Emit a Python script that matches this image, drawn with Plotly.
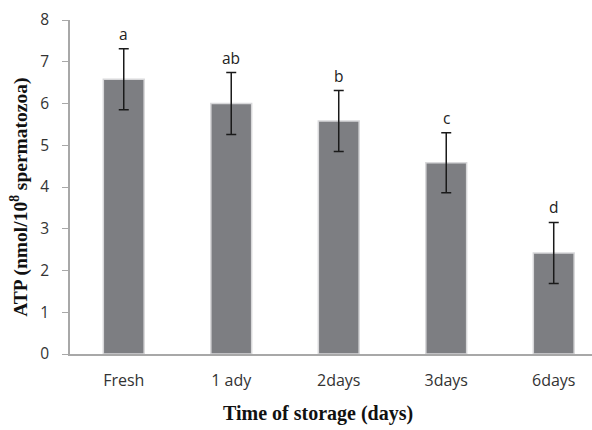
import plotly.graph_objects as go

# ATP content of stored semen samples
categories = ["Fresh", "1 ady", "2days", "3days", "6days"]
atp_mean = [6.58, 6.00, 5.58, 4.58, 2.42]
atp_err = [0.73, 0.74, 0.73, 0.72, 0.73]
group_letters = ["a", "ab", "b", "c", "d"]
y_ticks = [0, 1, 2, 3, 4, 5, 6, 7, 8]

fig = go.Figure()
fig.add_trace(go.Bar(
    x=categories,
    y=atp_mean,
    width=0.38,
    marker=dict(color="#7d7e82", line=dict(color="#d8d8da", width=1.5)),
    error_y=dict(type="data", array=atp_err, visible=True,
                 color="#1a1a1a", thickness=1.5, width=5),
    showlegend=False,
))

# significance letters above error bars
for cat, m, e, lab in zip(categories, atp_mean, atp_err, group_letters):
    fig.add_annotation(x=cat, y=m + e, text=lab, showarrow=False,
                       yanchor="bottom", yshift=2,
                       font=dict(family="Open Sans, sans-serif", size=15.5, color="#222"))

fig.add_annotation(xref="paper", yref="paper", x=-0.098, y=0.47,
                   xanchor="center", yanchor="middle",
                   text="<b>ATP (nmol/10<sup>8</sup> spermatozoa)</b>",
                   textangle=-90, showarrow=False,
                   font=dict(family="Liberation Serif, serif", size=19.5, color="#111"))
fig.add_annotation(xref="paper", yref="paper", x=0.476, y=-0.178,
                   xanchor="center", yanchor="middle",
                   text="<b>Time of storage (days)</b>", showarrow=False,
                   font=dict(family="Liberation Serif, serif", size=20, color="#111"))

fig.update_layout(
    width=592, height=430,
    margin=dict(l=70, r=0, t=20, b=76),
    paper_bgcolor="white", plot_bgcolor="white",
    font=dict(family="Open Sans, sans-serif", size=14, color="#333"),
    bargap=0.62,
)
fig.update_xaxes(range=[-0.5, 4.356], showline=True, linecolor="#a8a8a8",
                 linewidth=1.5, ticks="", ticklabelstandoff=11,
                 tickfont=dict(size=16, color="#333"))
fig.update_yaxes(range=[0, 8], tickvals=y_ticks, showline=True,
                 linecolor="#a8a8a8", linewidth=1.5, ticks="outside",
                 ticklen=6, tickcolor="#a8a8a8", showgrid=False,
                 zeroline=False, ticklabelstandoff=10,
                 tickfont=dict(size=15.5, color="#333"))

fig.write_html("out.html")
